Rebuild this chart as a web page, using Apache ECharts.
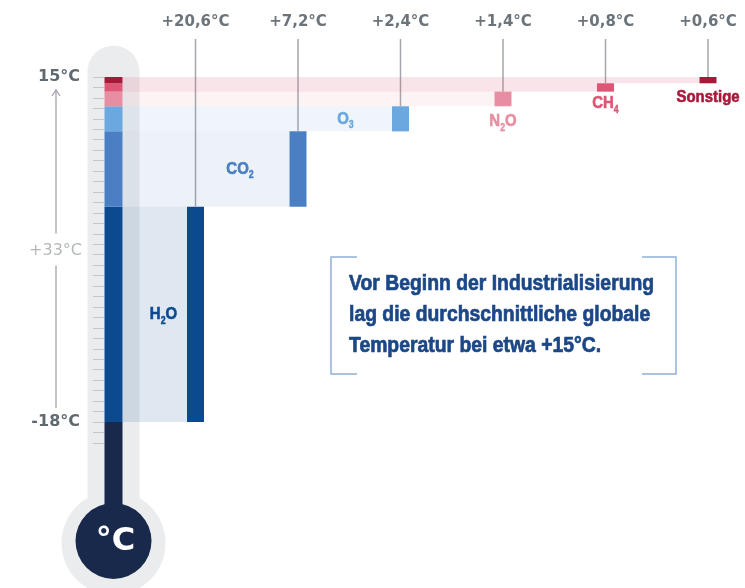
<!DOCTYPE html>
<html>
<head>
<meta charset="utf-8">
<script src="https://cdn.jsdelivr.net/npm/echarts@6/dist/echarts.min.js"></script>
<style>
  html, body { margin: 0; padding: 0; background: #ffffff; }
  #chart { width: 745px; height: 588px; }
</style>
</head>
<body>
<div id="chart"></div>
<script>
// Natural greenhouse effect: how each gas lifts the mean temperature from -18 °C to +15 °C
const gases = ['H2O', 'CO2', 'O3', 'N2O', 'CH4', 'Sonstige'];
const gasLabels = ['H{s|2}O', 'CO{s|2}', 'O{s|3}', 'N{s|2}O', 'CH{s|4}', 'Sonstige'];
const warming = [20.6, 7.2, 2.4, 1.4, 0.8, 0.6];
const warmingLabels = ['+20,6°C', '+7,2°C', '+2,4°C', '+1,4°C', '+0,8°C', '+0,6°C'];
const baseTemp = -18;
const finalTemp = 15;
const scaleLabels = ['15°C', '+33°C', '-18°C'];
const introLines = [
  'Vor Beginn der Industrialisierung',
  'lag die durchschnittliche globale',
  'Temperatur bei etwa +15°C.'
];

// ---- styling ----
const NARROW = "'Liberation Sans', Arial, sans-serif";   // squeezed horizontally to a condensed look
const NARROW_SCALE = 0.88;
const WIDE = "'DejaVu Sans', sans-serif";
const gasColors = ['#0b4a8e', '#4a80c3', '#6aa8df', '#e88ea2', '#dc5675', '#a8183a'];
const bandColors = [
  'rgba(11,74,142,0.13)', 'rgba(74,128,196,0.10)', 'rgba(106,168,223,0.11)',
  'rgba(232,142,162,0.11)', 'rgba(220,86,117,0.16)', 'rgba(220,86,117,0.16)'
];
// gas names sit inside the shaded band (offset from the bar centre) or just under the bar
const nameLayout = [
  { dx: -32 }, { dx: -58 }, { dx: -55 },
  { below: 15 }, { below: 12 }, { below: 14 }
];
const THERMO_X = -0.8;          // x position of the thermometer column on the value axis
const TUBE_W = 52, COL_W = 18, BAR_W = 17;
const LABEL_Y = 22, LEADER_TOP = 39;

// stacked segments: [index, from, to, delta]
let acc = baseTemp;
const segments = warming.map((w, i) => {
  const lo = acc;
  acc = Math.round((acc + w) * 10) / 10;
  return [i, lo, acc, w];
});

const tickValues = [];
for (let t = -20; t <= finalTemp; t++) tickValues.push(t);

const chart = echarts.init(document.getElementById('chart'), null, { renderer: 'canvas' });

function renderThermometer(params, api) {
  const top = api.coord([THERMO_X, 18]);
  const cx = top[0];
  const yBase = api.coord([THERMO_X, baseTemp])[1];
  const bulbY = yBase + 119;
  return {
    type: 'group',
    children: [
      { type: 'rect', shape: { x: cx - TUBE_W / 2, y: top[1], width: TUBE_W, height: bulbY - top[1], r: TUBE_W / 2 },
        style: { fill: '#ebecee' } },
      { type: 'circle', shape: { cx: cx, cy: bulbY + 2, r: 52 }, style: { fill: '#ebecee' } },
      { type: 'rect', shape: { x: cx - COL_W / 2, y: yBase, width: COL_W, height: bulbY - yBase }, style: { fill: '#18294b' } },
      { type: 'circle', shape: { cx: cx, cy: bulbY, r: 38 }, style: { fill: '#18294b' } },
      { type: 'text', style: { x: cx + 2, y: bulbY + 1, text: '°C', fill: '#ffffff', font: 'bold 32px ' + WIDE,
          align: 'center', verticalAlign: 'middle' } }
    ]
  };
}

function renderGas(params, api) {
  const i = api.value(0), lo = api.value(1), hi = api.value(2);
  const pLo = api.coord([i, lo]);
  const pHi = api.coord([i, hi]);
  const colX = api.coord([THERMO_X, lo])[0];
  const barX = pLo[0];
  const yTop = pHi[1], yBot = pLo[1];
  const h = yBot - yTop;
  const color = gasColors[i];
  const lay = nameLayout[i];
  const nameEl = {
    type: 'text',
    scaleX: NARROW_SCALE,
    style: {
      x: 0, y: 0, text: gasLabels[i], fill: color, font: 'bold 17px ' + NARROW,
      stroke: color, lineWidth: 0.6,
      align: 'center', verticalAlign: 'middle',
      rich: { s: { fontSize: 10, fontWeight: 'bold', fontFamily: NARROW, fill: color,
        stroke: color, lineWidth: 0.4, padding: [13, 0, 0, 0] } }
    }
  };
  if (lay.dx !== undefined) {
    nameEl.x = barX + lay.dx;
    nameEl.y = (yTop + yBot) / 2;
  } else {
    nameEl.x = barX;
    nameEl.y = yBot + lay.below;
  }
  return {
    type: 'group',
    children: [
      { type: 'rect', shape: { x: colX + COL_W / 2, y: yTop, width: barX - BAR_W / 2 - colX - COL_W / 2, height: h },
        style: { fill: bandColors[i] } },
      { type: 'rect', shape: { x: colX - COL_W / 2, y: yTop, width: COL_W, height: h }, style: { fill: color } },
      { type: 'rect', shape: { x: barX - BAR_W / 2, y: yTop, width: BAR_W, height: h }, style: { fill: color } },
      { type: 'line', shape: { x1: barX, y1: LEADER_TOP, x2: barX, y2: yTop },
        style: { stroke: '#a3a7ab', lineWidth: 1.5 } },
      { type: 'text', style: { x: barX, y: LABEL_Y, text: warmingLabels[i], fill: '#6b747b',
          font: 'bold 15px ' + WIDE, align: 'center', verticalAlign: 'middle' } },
      nameEl
    ]
  };
}

function renderScale(params, api) {
  const pTop = api.coord([-1, finalTemp]);
  const pBot = api.coord([-1, baseTemp]);
  const pMid = api.coord([-1, (finalTemp + baseTemp) / 2]);
  const ax = 56;
  const stroke = { stroke: '#a0a5aa', lineWidth: 1.3, fill: null };
  return {
    type: 'group',
    children: [
      { type: 'line', shape: { x1: ax, y1: pTop[1] + 13, x2: ax, y2: pMid[1] - 16 }, style: stroke },
      { type: 'line', shape: { x1: ax, y1: pMid[1] + 16, x2: ax, y2: pBot[1] - 14 }, style: stroke },
      { type: 'polyline', shape: { points: [[ax - 4, pTop[1] + 19], [ax, pTop[1] + 13], [ax + 4, pTop[1] + 19]] }, style: stroke },
      { type: 'text', style: { x: 82, y: pMid[1] + 1, text: scaleLabels[1], fill: '#b3b8bc',
          font: '16px ' + WIDE, align: 'right', verticalAlign: 'middle' } }
    ]
  };
}

const option = {
  animation: false,
  backgroundColor: '#ffffff',
  grid: { left: 93, right: 6.25, top: 45.64, bottom: 40.55 },
  xAxis: { type: 'value', min: -1, max: 5.3, show: false },
  yAxis: {
    type: 'value', min: -30, max: 18, z: 5,
    axisLine: { show: false, onZero: false },
    splitLine: { show: false },
    axisTick: { show: true, inside: true, length: 11, customValues: tickValues,
      lineStyle: { color: '#c3c7cc', width: 1 } },
    axisLabel: {
      show: true, customValues: [baseTemp, finalTemp], margin: 13,
      formatter: v => (v === finalTemp ? scaleLabels[0] : scaleLabels[2]),
      color: '#5f6970', fontFamily: WIDE, fontWeight: 'bold', fontSize: 16
    }
  },
  graphic: [
    {
      type: 'group', silent: true,
      children: [
        { type: 'polyline', shape: { points: [[357, 257], [331, 257], [331, 374], [357, 374]] },
          style: { stroke: '#8fb1d9', lineWidth: 1.5, fill: null } },
        { type: 'polyline', shape: { points: [[642, 257], [676, 257], [676, 374], [642, 374]] },
          style: { stroke: '#8fb1d9', lineWidth: 1.5, fill: null } },
        ...introLines.map((t, k) => ({
          type: 'text',
          x: 349, y: 284 + k * 31, scaleX: NARROW_SCALE,
          style: { x: 0, y: 0, text: t, fill: '#1b4787', stroke: '#1b4787', lineWidth: 0.7,
            font: 'bold 22px ' + NARROW, verticalAlign: 'middle', align: 'left' }
        }))
      ]
    }
  ],
  series: [
    { type: 'custom', name: 'Thermometer', z: 1, silent: true, data: [[THERMO_X]], renderItem: renderThermometer, clip: false },
    { type: 'custom', name: 'Skala', z: 2, silent: true, data: [[0]], renderItem: renderScale, clip: false },
    { type: 'custom', name: 'Treibhausgase', z: 3, silent: true, data: segments, renderItem: renderGas, clip: false,
      encode: { x: 0, y: [1, 2] } }
  ]
};

chart.setOption(option);
</script>
</body>
</html>
